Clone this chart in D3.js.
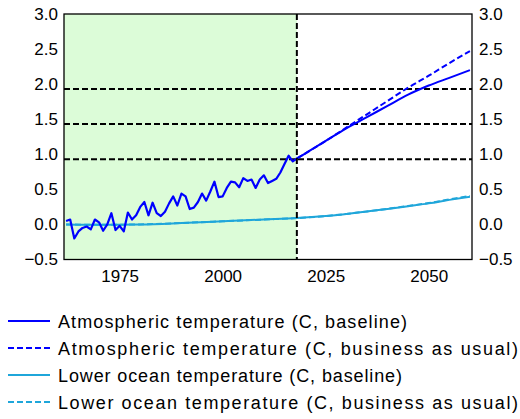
<!DOCTYPE html>
<html>
<head>
<meta charset="utf-8">
<script src="https://cdn.jsdelivr.net/npm/d3@7"></script>
<style>
  html, body { margin: 0; padding: 0; background: #fff; }
  svg { display: block; font-family: "Liberation Sans", Arial, sans-serif; }
</style>
</head>
<body>
<svg id="chart" width="520" height="419"></svg>
<script>
// Observed atmospheric temperature, annual, 1962-2018 (C)
const histYears = d3.range(1962, 2019);
const atmHist = [
  0.05, 0.07, -0.20, -0.10, -0.05, -0.03, -0.07, 0.07, 0.03, -0.09,
  0.00, 0.16, -0.08, -0.02, -0.10, 0.17, 0.07, 0.13, 0.25, 0.32,
  0.13, 0.31, 0.16, 0.12, 0.18, 0.30, 0.40, 0.27, 0.44, 0.40,
  0.22, 0.24, 0.32, 0.44, 0.34, 0.47, 0.61, 0.39, 0.40, 0.52,
  0.61, 0.60, 0.53, 0.66, 0.62, 0.64, 0.52, 0.64, 0.70, 0.59,
  0.62, 0.65, 0.74, 0.86, 0.98, 0.90, 0.94
];

// Projection years and paths (C)
const projYears = [2018, 2020, 2025, 2030, 2035, 2040, 2045, 2050, 2055, 2060];
const atmBaseline = [0.94, 1.01, 1.19, 1.37, 1.53, 1.69, 1.85, 1.98, 2.09, 2.20];
const atmBau      = [0.94, 1.01, 1.19, 1.38, 1.57, 1.76, 1.95, 2.12, 2.30, 2.47];

// Lower ocean temperature (C)
const oceanYears    = [1962, 1970, 1980, 1990, 2000, 2010, 2018, 2025, 2030, 2035, 2040, 2045, 2050, 2055, 2060];
const oceanBaseline = [0.00, -0.005, 0.00, 0.02, 0.045, 0.07, 0.09, 0.12, 0.15, 0.185, 0.22, 0.26, 0.30, 0.35, 0.395];
const oceanBau      = [0.00, -0.005, 0.00, 0.02, 0.045, 0.07, 0.09, 0.12, 0.15, 0.185, 0.222, 0.263, 0.305, 0.356, 0.405];

// Reference warming levels and the start of the projection
const thresholds = [0.93, 1.43, 1.93];
const projectionStart = 2018;

const yTicks = [-0.5, 0.0, 0.5, 1.0, 1.5, 2.0, 2.5, 3.0];
const xTicks = [1975, 2000, 2025, 2050];

const legendItems = [
  { label: "Atmospheric temperature (C, baseline)", color: "#0000ff", dash: null, len: 349 },
  { label: "Atmospheric temperature (C, business as usual)", color: "#0000ff", dash: "6,3", len: 460 },
  { label: "Lower ocean temperature (C, baseline)", color: "#1fa6da", dash: null, len: 344 },
  { label: "Lower ocean temperature (C, business as usual)", color: "#1fa6da", dash: "6,3", len: 460 }
];

const plot = { left: 64, right: 472, top: 14, bottom: 259.5 };

const svg = d3.select("#chart");
const x = d3.scaleLinear().domain([1961.5, 2060.5]).range([plot.left, plot.right]);
const y = d3.scaleLinear().domain([-0.5, 3.0]).range([plot.bottom, plot.top]);

// Shaded historical period
svg.append("rect")
  .attr("x", x(1961.5))
  .attr("y", plot.top)
  .attr("width", x(projectionStart) - x(1961.5))
  .attr("height", plot.bottom - plot.top)
  .attr("fill", "#dcfcd8");

// Dashed warming levels
svg.append("g").selectAll("line")
  .data(thresholds)
  .join("line")
  .attr("x1", plot.left).attr("x2", plot.right)
  .attr("y1", d => y(d)).attr("y2", d => y(d))
  .attr("stroke", "#000")
  .attr("stroke-width", 2)
  .attr("stroke-dasharray", "6,3");

// Series
const lineFn = d3.line().x(d => x(d[0])).y(d => y(d[1]));
const smoothFn = d3.line().x(d => x(d[0])).y(d => y(d[1])).curve(d3.curveMonotoneX);

const pair = (xs, vs) => xs.map((v, i) => [v, vs[i]]);

svg.append("path").datum(pair(oceanYears, oceanBau))
  .attr("d", smoothFn).attr("fill", "none")
  .attr("stroke", "#1fa6da").attr("stroke-width", 2).attr("stroke-dasharray", "6,3");
svg.append("path").datum(pair(oceanYears, oceanBaseline))
  .attr("d", smoothFn).attr("fill", "none")
  .attr("stroke", "#1fa6da").attr("stroke-width", 2);

svg.append("path").datum(pair(projYears, atmBau))
  .attr("d", smoothFn).attr("fill", "none")
  .attr("stroke", "#0000ff").attr("stroke-width", 2).attr("stroke-dasharray", "6,3");
svg.append("path").datum(pair(projYears, atmBaseline))
  .attr("d", smoothFn).attr("fill", "none")
  .attr("stroke", "#0000ff").attr("stroke-width", 2);
svg.append("path").datum(pair(histYears, atmHist))
  .attr("d", lineFn).attr("fill", "none")
  .attr("stroke", "#0000ff").attr("stroke-width", 2.2)
  .attr("stroke-linejoin", "round");

// Projection start marker
svg.append("line")
  .attr("x1", x(projectionStart)).attr("x2", x(projectionStart))
  .attr("y1", plot.top).attr("y2", plot.bottom)
  .attr("stroke", "#000").attr("stroke-width", 2).attr("stroke-dasharray", "6,3");

// Frame
svg.append("rect")
  .attr("x", plot.left).attr("y", plot.top)
  .attr("width", plot.right - plot.left).attr("height", plot.bottom - plot.top)
  .attr("fill", "none").attr("stroke", "#000").attr("stroke-width", 1.3);

// Axes
const fmt = d3.format(".1f");
function styleAxis(g) {
  g.select(".domain").remove();
  g.selectAll(".tick line").remove();
  g.selectAll("text").attr("font-size", 17).attr("fill", "#000")
    .attr("font-family", "'Liberation Sans', Arial, sans-serif");
}
svg.append("g").attr("transform", `translate(${plot.left},0)`)
  .call(d3.axisLeft(y).tickValues(yTicks).tickFormat(fmt).tickSize(0).tickPadding(6))
  .call(styleAxis);
svg.append("g").attr("transform", `translate(${plot.right},0)`)
  .call(d3.axisRight(y).tickValues(yTicks).tickFormat(fmt).tickSize(0).tickPadding(7))
  .call(styleAxis);
svg.append("g").attr("transform", `translate(0,${plot.bottom})`)
  .call(d3.axisBottom(x).tickValues(xTicks).tickFormat(d3.format("d")).tickSize(0).tickPadding(10))
  .call(styleAxis);

// Legend
const legend = svg.append("g");
const rowY = [321, 348, 375, 402];
legendItems.forEach((item, i) => {
  const cy = rowY[i];
  legend.append("line")
    .attr("x1", 8).attr("x2", 50).attr("y1", cy).attr("y2", cy)
    .attr("stroke", item.color).attr("stroke-width", 2)
    .attr("stroke-dasharray", item.dash);
  legend.append("text")
    .attr("x", 58).attr("y", cy + 6.5)
    .attr("font-size", 18)
    .attr("textLength", item.len)
    .attr("lengthAdjust", "spacing")
    .text(item.label);
});
</script>
</body>
</html>
